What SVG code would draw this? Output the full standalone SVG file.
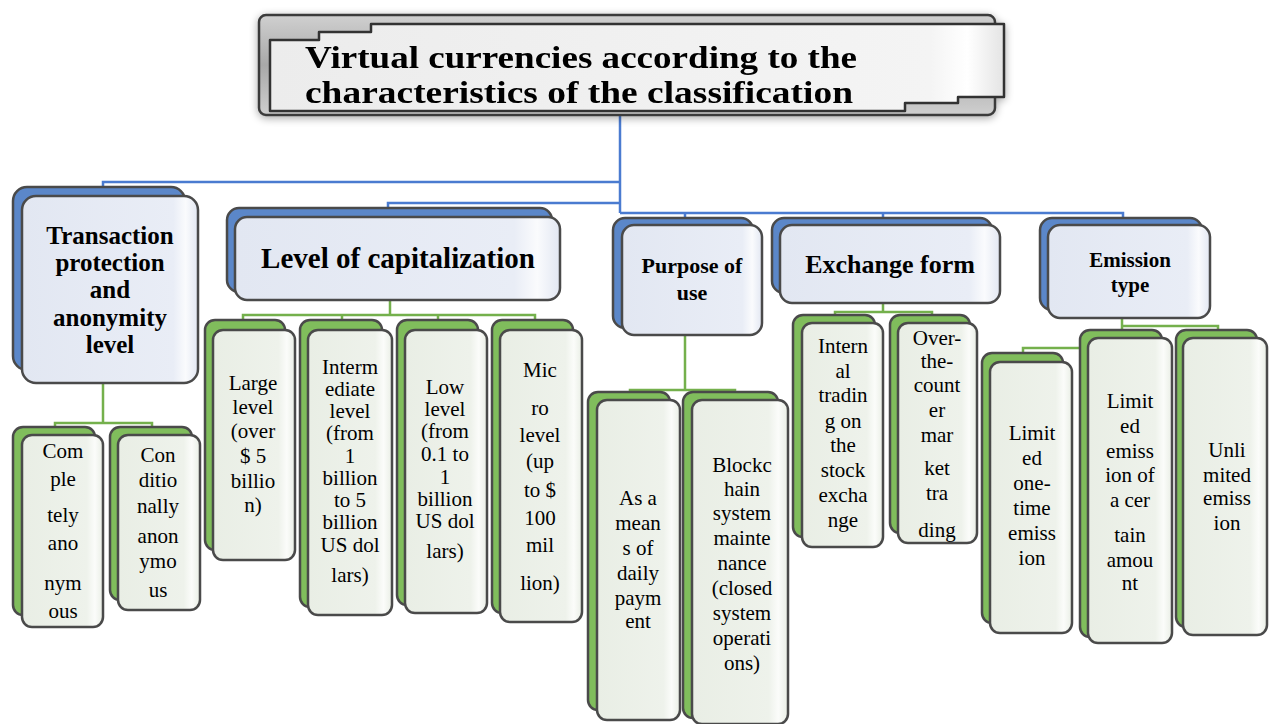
<svg xmlns="http://www.w3.org/2000/svg" width="1272" height="724" viewBox="0 0 1272 724">
<defs>
<linearGradient id="gc" x1="0" y1="0" x2="1" y2="0">
<stop offset="0" stop-color="#e2e7f2"/><stop offset="0.86" stop-color="#e9edf6"/><stop offset="0.93" stop-color="#fafbfd"/><stop offset="1" stop-color="#e2e7f2"/>
</linearGradient>
<linearGradient id="gl" x1="0" y1="0" x2="1" y2="0">
<stop offset="0" stop-color="#e9eee5"/><stop offset="0.8" stop-color="#eef2eb"/><stop offset="0.9" stop-color="#fbfcfa"/><stop offset="1" stop-color="#e9eee5"/>
</linearGradient>
<linearGradient id="gtb" x1="0" y1="0" x2="0" y2="1">
<stop offset="0" stop-color="#d0d0d0"/><stop offset="0.5" stop-color="#a8a8a8"/><stop offset="1" stop-color="#cfcfcf"/>
</linearGradient>
<linearGradient id="gtf" x1="0" y1="0" x2="1" y2="0">
<stop offset="0" stop-color="#ececec"/><stop offset="0.9" stop-color="#f4f4f4"/><stop offset="0.95" stop-color="#ffffff"/><stop offset="1" stop-color="#e4e4e4"/>
</linearGradient>
<filter id="sh" x="-5%" y="-20%" width="110%" height="140%">
<feGaussianBlur in="SourceAlpha" stdDeviation="4"/>
<feOffset dx="0" dy="2"/>
<feComponentTransfer><feFuncA type="linear" slope="0.35"/></feComponentTransfer>
<feMerge><feMergeNode/><feMergeNode in="SourceGraphic"/></feMerge>
</filter>
</defs>
<style>
.cb{fill:#5b87c9;stroke:#4a4a4a;stroke-width:2.5}
.cf{fill:url(#gc);stroke:#4a4a4a;stroke-width:2.5}
.lb{fill:#80bd5c;stroke:#4a4a4a;stroke-width:2.5}
.lf{fill:url(#gl);stroke:#4a4a4a;stroke-width:2.5}
.ct{font-family:"Liberation Serif","Times New Roman",serif;font-weight:bold;fill:#000;text-anchor:middle}
.lt{font-family:"Liberation Serif","Times New Roman",serif;font-size:21px;fill:#000;text-anchor:middle}
.bl{fill:none;stroke:#4a7bd0;stroke-width:2.5}
.gr{fill:none;stroke:#74b04c;stroke-width:2.5}
.tt{font-family:"Liberation Serif","Times New Roman",serif;font-weight:bold;font-size:32px;fill:#000}
</style>
<rect width="1272" height="724" fill="#fff"/>

<g id="connectors">
<path class="bl" d="M620,108 V213"/>
<path class="bl" d="M620,182 H103 V190"/>
<path class="bl" d="M620,203 H388 V210"/>
<path class="bl" d="M620,213 H1123 V220 M685,213 V220 M883,213 V220"/>
<path class="gr" d="M103,380 V423 M55,428 V423 H152 V428"/>
<path class="gr" d="M390,298 V315 H535 V322 M390,315 H243 V322 M342,315 V322 M438,315 V322"/>
<path class="gr" d="M685,333 V390 H735 V394 M685,390 H630 V394"/>
<path class="gr" d="M883,301 V312 H932 V317 M883,312 H835 V317"/>
<path class="gr" d="M1122,316 V348 H1023 V355 M1122,326 H1218 V332"/>
</g>

<g id="title" filter="url(#sh)">
<rect x="259" y="15" width="736" height="100" rx="7" fill="url(#gtb)" stroke="#3a3a3a" stroke-width="2.5"/>
<path d="M270,40 H319 V32 H371 V24 H1004 V97 H958 V103 H905 V111 H270 Z" fill="url(#gtf)" stroke="#333" stroke-width="2.5" stroke-linejoin="round"/>
<text class="tt" x="305" y="68" textLength="552" lengthAdjust="spacingAndGlyphs">Virtual currencies according to the</text>
<text class="tt" x="305" y="103" textLength="548" lengthAdjust="spacingAndGlyphs">characteristics of the classification</text>
</g>

<g id="n-transaction">
<rect class="cb" x="13" y="187" width="172" height="183" rx="14"/>
<rect class="cf" x="22" y="196" width="176" height="187" rx="14"/>
<text class="ct" font-size="25"><tspan x="110" y="244">Transaction</tspan><tspan x="110" y="271">protection</tspan><tspan x="110" y="298">and</tspan><tspan x="110" y="326">anonymity</tspan><tspan x="110" y="353">level</tspan></text>
</g>

<g id="n-capitalization">
<rect class="cb" x="227" y="208" width="325" height="84" rx="12"/>
<rect class="cf" x="235" y="217" width="325" height="83" rx="12"/>
<text class="ct" font-size="29" x="398" y="268">Level of capitalization</text>
</g>

<g id="n-purpose">
<rect class="cb" x="613" y="218" width="140" height="110" rx="12"/>
<rect class="cf" x="622" y="225" width="140" height="110" rx="12"/>
<text class="ct" font-size="22"><tspan x="692" y="273">Purpose of</tspan><tspan x="692" y="300">use</tspan></text>
</g>

<g id="n-exchange">
<rect class="cb" x="772" y="218" width="220" height="75" rx="12"/>
<rect class="cf" x="780" y="225" width="220" height="78" rx="12"/>
<text class="ct" font-size="26" x="890" y="273">Exchange form</text>
</g>

<g id="n-emission">
<rect class="cb" x="1040" y="218" width="162" height="92" rx="12"/>
<rect class="cf" x="1048" y="225" width="162" height="93" rx="12"/>
<text class="ct" font-size="21"><tspan x="1130" y="267">Emission</tspan><tspan x="1130" y="292">type</tspan></text>
</g>

<g id="l-completely">
<rect class="lb" x="13" y="427" width="82" height="188" rx="10"/>
<rect class="lf" x="22" y="435" width="81" height="192" rx="10"/>
<text class="lt" font-size="22"><tspan x="63" y="458">Com</tspan><tspan x="63" y="486">ple</tspan><tspan x="63" y="522">tely</tspan><tspan x="63" y="550">ano</tspan><tspan x="63" y="590">nym</tspan><tspan x="63" y="618">ous</tspan></text>
</g>

<g id="l-conditionally">
<rect class="lb" x="110" y="427" width="82" height="173" rx="10"/>
<rect class="lf" x="118" y="435" width="82" height="175" rx="10"/>
<text class="lt"><tspan x="158" y="462">Con</tspan><tspan x="158" y="487">ditio</tspan><tspan x="158" y="513">nally</tspan><tspan x="158" y="543">anon</tspan><tspan x="158" y="568">ymo</tspan><tspan x="158" y="597">us</tspan></text>
</g>

<g id="l-large">
<rect class="lb" x="205" y="320" width="80" height="230" rx="10"/>
<rect class="lf" x="213" y="330" width="82" height="230" rx="10"/>
<text class="lt"><tspan x="253" y="390">Large</tspan><tspan x="253" y="414">level</tspan><tspan x="253" y="438">(over</tspan><tspan x="253" y="463">$ 5</tspan><tspan x="253" y="488">billio</tspan><tspan x="253" y="512">n)</tspan></text>
</g>

<g id="l-intermediate">
<rect class="lb" x="300" y="320" width="82" height="287" rx="10"/>
<rect class="lf" x="308" y="330" width="84" height="285" rx="10"/>
<text class="lt" font-size="18"><tspan x="350" y="374">Interm</tspan><tspan x="350" y="396">ediate</tspan><tspan x="350" y="418">level</tspan><tspan x="350" y="440">(from</tspan><tspan x="350" y="463">1</tspan><tspan x="350" y="485">billion</tspan><tspan x="350" y="507">to 5</tspan><tspan x="350" y="529">billion</tspan><tspan x="350" y="552">US dol</tspan><tspan x="350" y="582">lars)</tspan></text>
</g>

<g id="l-low">
<rect class="lb" x="397" y="320" width="81" height="285" rx="10"/>
<rect class="lf" x="405" y="330" width="82" height="283" rx="10"/>
<text class="lt" font-size="18"><tspan x="445" y="394">Low</tspan><tspan x="445" y="416">level</tspan><tspan x="445" y="438">(from</tspan><tspan x="445" y="461">0.1 to</tspan><tspan x="445" y="484">1</tspan><tspan x="445" y="506">billion</tspan><tspan x="445" y="528">US dol</tspan><tspan x="445" y="558">lars)</tspan></text>
</g>

<g id="l-micro">
<rect class="lb" x="492" y="320" width="81" height="293" rx="10"/>
<rect class="lf" x="500" y="330" width="82" height="292" rx="10"/>
<text class="lt" font-size="23"><tspan x="540" y="377">Mic</tspan><tspan x="540" y="415">ro</tspan><tspan x="540" y="442">level</tspan><tspan x="540" y="468">(up</tspan><tspan x="540" y="497">to $</tspan><tspan x="540" y="525">100</tspan><tspan x="540" y="552">mil</tspan><tspan x="540" y="590">lion)</tspan></text>
</g>

<g id="l-daily">
<rect class="lb" x="588" y="392" width="82" height="318" rx="10"/>
<rect class="lf" x="597" y="400" width="83" height="320" rx="10"/>
<text class="lt"><tspan x="638" y="505">As a</tspan><tspan x="638" y="530">mean</tspan><tspan x="638" y="555">s of</tspan><tspan x="638" y="580">daily</tspan><tspan x="638" y="605">paym</tspan><tspan x="638" y="628">ent</tspan></text>
</g>

<g id="l-blockchain">
<rect class="lb" x="683" y="392" width="95" height="326" rx="10"/>
<rect class="lf" x="692" y="400" width="96" height="324" rx="10"/>
<text class="lt"><tspan x="742" y="472">Blockc</tspan><tspan x="742" y="496">hain</tspan><tspan x="742" y="520">system</tspan><tspan x="742" y="545">mainte</tspan><tspan x="742" y="570">nance</tspan><tspan x="742" y="595">(closed</tspan><tspan x="742" y="620">system</tspan><tspan x="742" y="645">operati</tspan><tspan x="742" y="670">ons)</tspan></text>
</g>

<g id="l-internal">
<rect class="lb" x="793" y="315" width="82" height="222" rx="10"/>
<rect class="lf" x="802" y="323" width="81" height="224" rx="10"/>
<text class="lt"><tspan x="843" y="353">Intern</tspan><tspan x="843" y="378">al</tspan><tspan x="843" y="402">tradin</tspan><tspan x="843" y="428">g on</tspan><tspan x="843" y="452">the</tspan><tspan x="843" y="477">stock</tspan><tspan x="843" y="502">excha</tspan><tspan x="843" y="527">nge</tspan></text>
</g>

<g id="l-otc">
<rect class="lb" x="890" y="315" width="80" height="218" rx="10"/>
<rect class="lf" x="898" y="323" width="79" height="220" rx="10"/>
<text class="lt"><tspan x="937" y="345">Over-</tspan><tspan x="937" y="368">the-</tspan><tspan x="937" y="392">count</tspan><tspan x="937" y="417">er</tspan><tspan x="937" y="442">mar</tspan><tspan x="937" y="475">ket</tspan><tspan x="937" y="500">tra</tspan><tspan x="937" y="537">ding</tspan></text>
</g>

<g id="l-onetime">
<rect class="lb" x="982" y="353" width="81" height="270" rx="10"/>
<rect class="lf" x="990" y="362" width="82" height="271" rx="10"/>
<text class="lt"><tspan x="1032" y="440">Limit</tspan><tspan x="1032" y="465">ed</tspan><tspan x="1032" y="490">one-</tspan><tspan x="1032" y="515">time</tspan><tspan x="1032" y="540">emiss</tspan><tspan x="1032" y="565">ion</tspan></text>
</g>

<g id="l-certain">
<rect class="lb" x="1080" y="330" width="82" height="307" rx="10"/>
<rect class="lf" x="1088" y="338" width="84" height="305" rx="10"/>
<text class="lt"><tspan x="1130" y="408">Limit</tspan><tspan x="1130" y="433">ed</tspan><tspan x="1130" y="458">emiss</tspan><tspan x="1130" y="482">ion of</tspan><tspan x="1130" y="507">a cer</tspan><tspan x="1130" y="542">tain</tspan><tspan x="1130" y="567">amou</tspan><tspan x="1130" y="590">nt</tspan></text>
</g>

<g id="l-unlimited">
<rect class="lb" x="1176" y="330" width="81" height="297" rx="10"/>
<rect class="lf" x="1183" y="338" width="84" height="297" rx="10"/>
<text class="lt"><tspan x="1227" y="457">Unli</tspan><tspan x="1227" y="482">mited</tspan><tspan x="1227" y="505">emiss</tspan><tspan x="1227" y="530">ion</tspan></text>
</g>
</svg>
